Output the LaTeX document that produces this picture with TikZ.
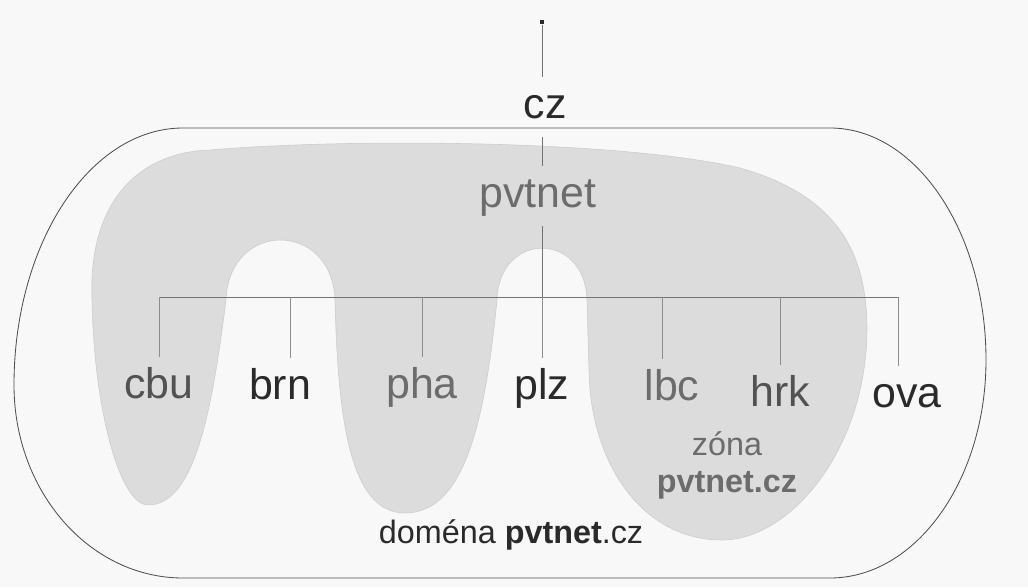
\documentclass[tikz,border=0pt]{standalone}
\usepackage{fontspec}
\setmainfont{Liberation Sans}
\usetikzlibrary{calc}
\definecolor{paper}{HTML}{F8F8F8}
\definecolor{zonefill}{HTML}{DCDCDC}
\definecolor{zoneedge}{HTML}{CCCCCC}
\definecolor{frame}{HTML}{4E4E4E}
\definecolor{ink}{HTML}{2A2A2A}
\definecolor{inkmid}{HTML}{525252}
\definecolor{inkpale}{HTML}{6C6C6C}
\tikzset{lbl/.style={font=\fontsize{30.5}{36}\selectfont, anchor=base, inner xsep=2pt, inner ysep=7pt,
                     text height=22pt, text depth=6.4pt},
         small/.style={font=\fontsize{23}{28}\selectfont, anchor=base, inner sep=2pt},
         spine/.style={draw=black!55, line width=0.6pt},
         drop/.style={draw=black!45, line width=0.5pt},
         dot/.style={fill=ink, inner sep=0pt, minimum size=3.5pt}
}

\begin{document}
\begin{tikzpicture}[x=0.025cm, y=-0.025cm]
      \useasboundingbox[fill=paper] (0,0) rectangle (1028,587);
      % zone pvtnet.cz
      \fill[zonefill, draw=zoneedge, line width=0.4pt] (92,300) .. controls (88,200) and (140,152) .. (210,150)
          .. controls (350,138) and (620,140) .. (740,168)
          .. controls (835,195) and (867,250) .. (867,330)
          .. controls (866,450) and (790,540) .. (722,540)
          .. controls (640,540) and (590,460) .. (589,370) -- (587,300)
          .. controls (585,231) and (499,231) .. (497,300)
          .. controls (485,420) and (465,513) .. (405,513)
          .. controls (350,513) and (338,420) .. (335,300)
          .. controls (332,220) and (229,220) .. (226,300)
          .. controls (212,410) and (195,505) .. (148,505)
          .. controls (120,505) and (94,410) .. cycle;
      % domain pvtnet.cz
      \draw[frame, line width=0.6pt] (183,128) -- (830,128)
          .. controls (916,128) and (986,232) .. (986,360)
          .. controls (986,480) and (916,578) .. (830,578)
          -- (183,578)
          .. controls (90,578) and (14,492) .. (14,385)
          .. controls (14,243) and (90,128) .. cycle;
      \node[dot] (root) at (542,22) {};
      \node[lbl, text=ink] (cz) at (545,118) {cz};
      \node[lbl, text=inkpale] (pvtnet) at (538,207) {pvtnet};
      \node[lbl, text=inkmid] (cbu) at (159,398) {cbu};
      \node[lbl, text=ink] (brn) at (280,399) {brn};
      \node[lbl, text=inkpale] (pha) at (422,398) {pha};
      \node[lbl, text=ink] (plz) at (542,399) {plz};
      \node[lbl, text=inkpale] (lbc) at (672,400) {lbc};
      \node[lbl, text=inkmid] (hrk) at (780,406) {hrk};
      \node[lbl, text=ink] (ova) at (907,407) {ova};
      \node[small, text=inkpale] (zona) at (727,455) {zóna};
      \node[small, text=inkpale, font=\fontsize{23}{28}\selectfont\bfseries] (zonaname) at (727,492) {pvtnet.cz};
      \node[small, text=ink] (domena) at (511,543) {doména \textbf{pvtnet}.cz};
      \coordinate (L) at (160,297);
      \draw[spine] (root) -- (root |- cz.north);
      \draw[spine] (root |- cz.south) -- (root |- pvtnet.north);
      \draw[spine] (root |- pvtnet.south) -- (root |- L);
      \draw[spine] (cbu.north |- L) -- ([xshift=-0.22cm]ova.north |- L);
      \draw[drop] (cbu.north |- L) -- (cbu.north);
      \draw[drop] ([xshift=0.25cm]brn.north |- L) -- ([xshift=0.25cm]brn.north);
      \draw[drop] (pha.north |- L) -- (pha.north);
      \draw[drop] (plz.north |- L) -- (plz.north);
      \draw[drop] ([xshift=-0.25cm]lbc.north |- L) -- ([xshift=-0.25cm]lbc.north);
      \draw[drop] (hrk.north |- L) -- (hrk.north);
      \draw[drop] ([xshift=-0.22cm]ova.north |- L) -- ([xshift=-0.22cm]ova.north);
    \end{tikzpicture}
\end{document}
